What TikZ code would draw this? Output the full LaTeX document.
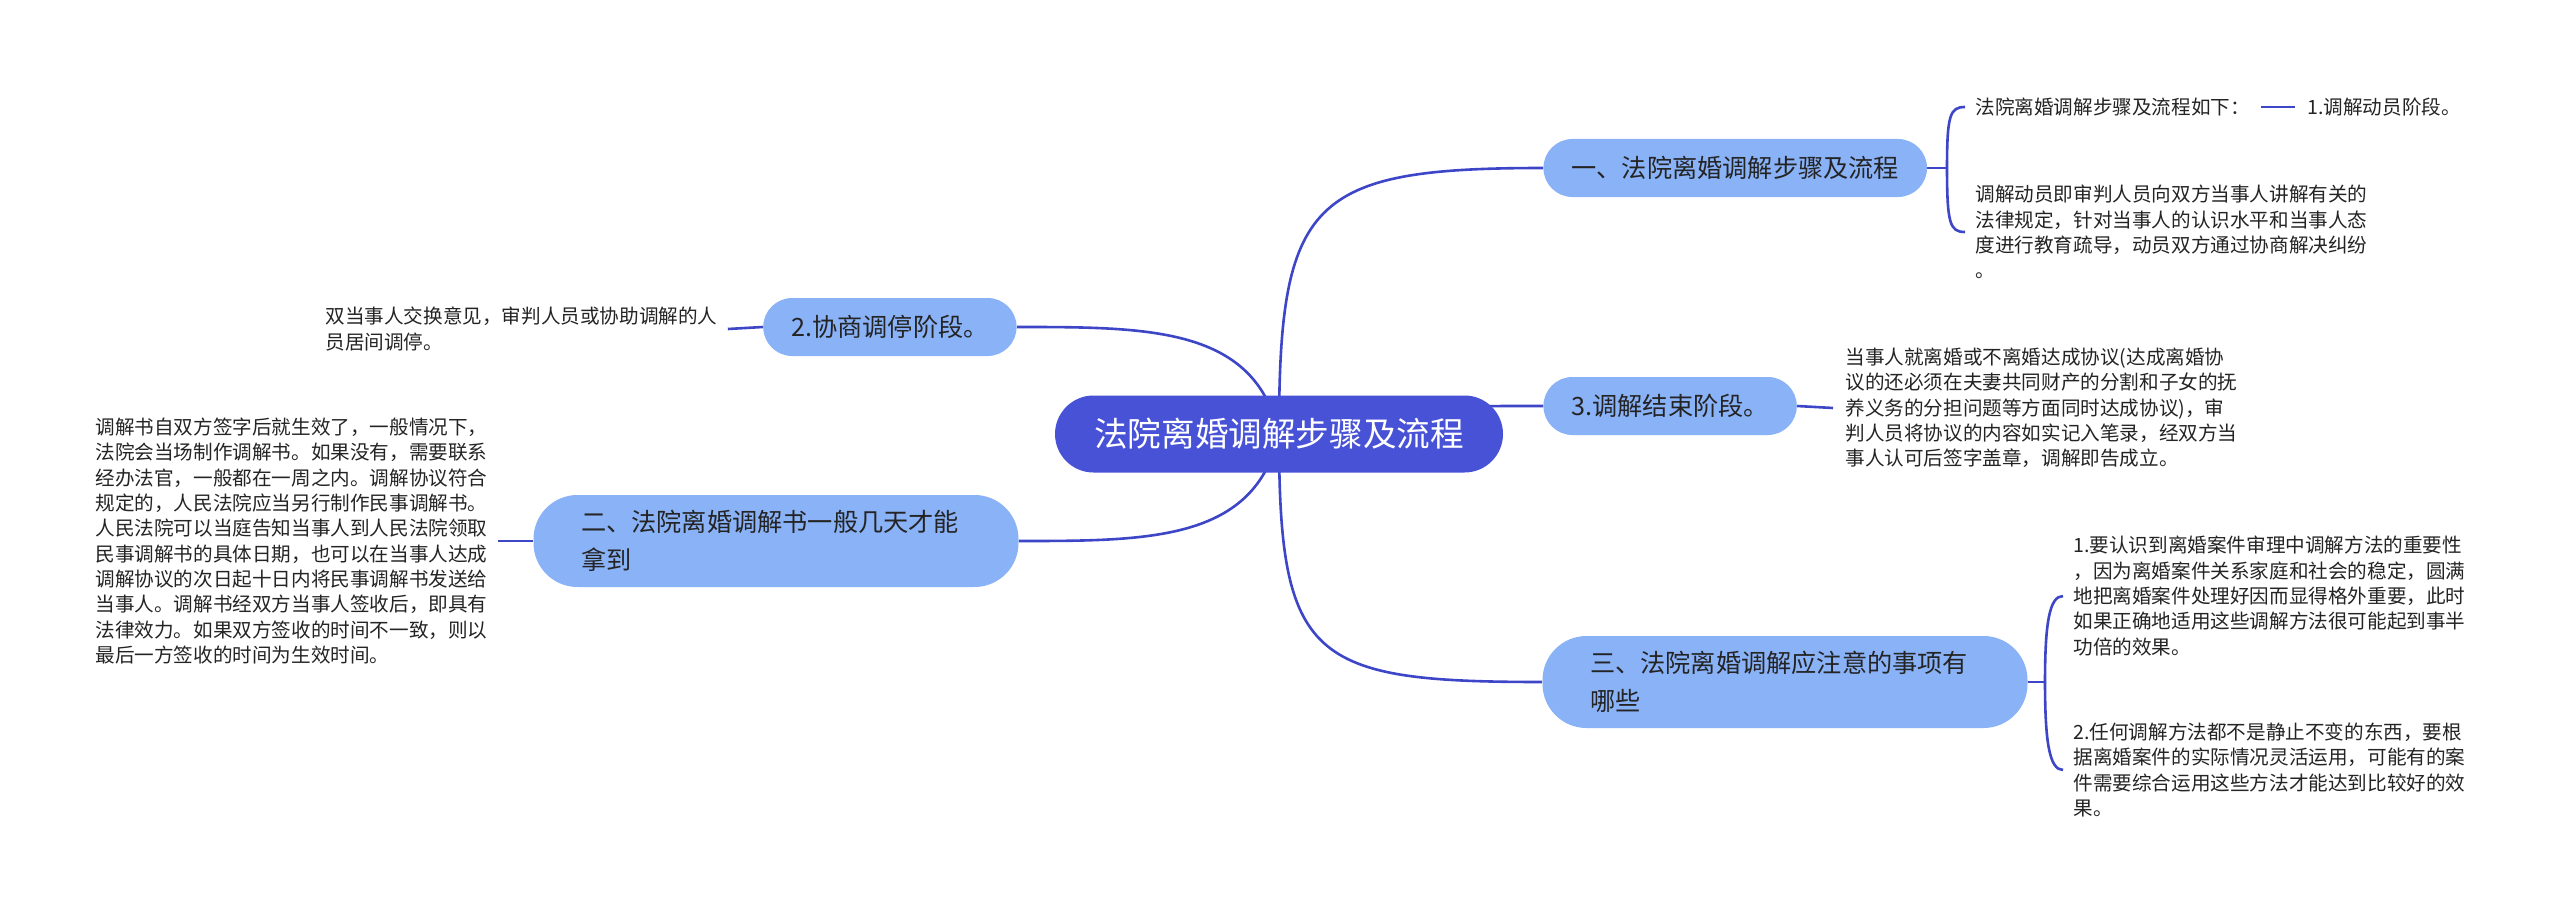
\documentclass[tikz,border=0pt]{standalone}
\usepackage{fontspec}
\setmainfont{Noto Sans CJK SC}
\definecolor{linec}{RGB}{62,70,200}
\definecolor{rootc}{RGB}{72,82,214}
\definecolor{subc}{RGB}{138,178,247}
\definecolor{txtc}{RGB}{36,36,36}
\pgfdeclarelayer{bg}
\pgfsetlayers{bg,main}
\begin{document}
\begin{tikzpicture}[x=0.5pt,y=-0.5pt,
  conn/.style={draw=linec,line width=1.3pt},
  rootnode/.style={fill=rootc,text=white,rounded corners=19.25pt,minimum width=224pt,minimum height=38.5pt,font=\fontsize{16.8pt}{20pt}\selectfont,inner sep=0pt},
  subnode/.style={fill=subc,text=txtc,rounded corners=14.5pt,minimum height=29pt,inner xsep=14pt,inner ysep=0pt,font=\fontsize{12.6pt}{15pt}\selectfont},
  subtwo/.style={fill=subc,text=txtc,rounded corners=22pt,minimum height=46pt,text width=195pt,inner xsep=23.75pt,inner ysep=0pt,align=left,font=\fontsize{12.6pt}{19pt}\selectfont},
  leaf/.style={text=txtc,inner sep=0pt,align=left,font=\fontsize{9.8pt}{12.65pt}\selectfont},
]
\useasboundingbox (0,0) rectangle (2560,915);

% main nodes
\node[rootnode] (root) at (1279,434) {法院离婚调解步骤及流程};
\node[subnode,anchor=west] (n1) at (1543,168) {一、法院离婚调解步骤及流程};
\node[subnode,anchor=west] (n3) at (1543,406) {3.调解结束阶段。};
\node[subtwo] (n5) at (1785,682) {三、法院离婚调解应注意的事项有\\哪些};
\node[subnode,anchor=east] (n2) at (1017,327) {2.协商调停阶段。};
\node[subtwo] (n4) at (776,541) {二、法院离婚调解书一般几天才能\\拿到};

% leaves
\node[leaf,anchor=west] (l1a) at (1975,107) {法院离婚调解步骤及流程如下：};
\node[leaf,anchor=west] (l1b) at (2307,107) {1.调解动员阶段。};
\node[leaf,anchor=west] (l1c) at (1975,232) {调解动员即审判人员向双方当事人讲解有关的\\法律规定，针对当事人的认识水平和当事人态\\度进行教育疏导，动员双方通过协商解决纠纷\\。};
\node[leaf,anchor=west] (l3) at (1845,408) {当事人就离婚或不离婚达成协议(达成离婚协\\议的还必须在夫妻共同财产的分割和子女的抚\\养义务的分担问题等方面同时达成协议)，审\\判人员将协议的内容如实记入笔录，经双方当\\事人认可后签字盖章，调解即告成立。};
\node[leaf,anchor=west] (l5a) at (2073,596) {1.要认识到离婚案件审理中调解方法的重要性\\，因为离婚案件关系家庭和社会的稳定，圆满\\地把离婚案件处理好因而显得格外重要，此时\\如果正确地适用这些调解方法很可能起到事半\\功倍的效果。};
\node[leaf,anchor=west] (l5b) at (2073,770) {2.任何调解方法都不是静止不变的东西，要根\\据离婚案件的实际情况灵活运用，可能有的案\\件需要综合运用这些方法才能达到比较好的效\\果。};
\node[leaf,anchor=west] (l2) at (325,329) {双当事人交换意见，审判人员或协助调解的人\\员居间调停。};
\node[leaf,anchor=west] (l4) at (95,541) {调解书自双方签字后就生效了，一般情况下，\\法院会当场制作调解书。如果没有，需要联系\\经办法官，一般都在一周之内。调解协议符合\\规定的，人民法院应当另行制作民事调解书。\\人民法院可以当庭告知当事人到人民法院领取\\民事调解书的具体日期，也可以在当事人达成\\调解协议的次日起十日内将民事调解书发送给\\当事人。调解书经双方当事人签收后，即具有\\法律效力。如果双方签收的时间不一致，则以\\最后一方签收的时间为生效时间。};

\coordinate (j1) at (1947,168);
\coordinate (j5) at (2045,682);

\begin{pgfonlayer}{bg}
\fill[white] (0,0) rectangle (2560,915);
\draw[conn] (root.center) .. controls (1279,200) and (1310,168) .. (n1.west);
\draw[conn] (root.center) .. controls (1330,406) and (1420,406) .. (n3.west);
\draw[conn] (root.center) .. controls (1279,660) and (1310,682) .. (n5.west);
\draw[conn] (root.center) .. controls (1255,327) and (1150,327) .. (n2.east);
\draw[conn] (root.center) .. controls (1255,541) and (1150,541) .. (n4.east);

\draw[conn] (n1.east) -- (j1);
\draw[conn] (j1) .. controls (1947,115) and (1950,107) .. ([xshift=-5pt]l1a.west);
\draw[conn] (j1) .. controls (1947,224) and (1950,232) .. ([xshift=-5pt]l1c.west);
\draw[conn] ([xshift=5.5pt]l1a.east) -- ([xshift=-6pt]l1b.west);

\draw[conn] (n3.east) -- ([xshift=-6pt]l3.west);

\draw[conn] (n5.east) -- (j5);
\draw[conn] (j5) .. controls (2045,625) and (2049,596) .. ([xshift=-5pt]l5a.west);
\draw[conn] (j5) .. controls (2045,740) and (2049,770) .. ([xshift=-5pt]l5b.west);

\draw[conn] (n2.west) -- ([xshift=5pt]l2.east);
\draw[conn] (n4.west) -- ([xshift=5pt]l4.east);
\end{pgfonlayer}
\end{tikzpicture}
\end{document}
